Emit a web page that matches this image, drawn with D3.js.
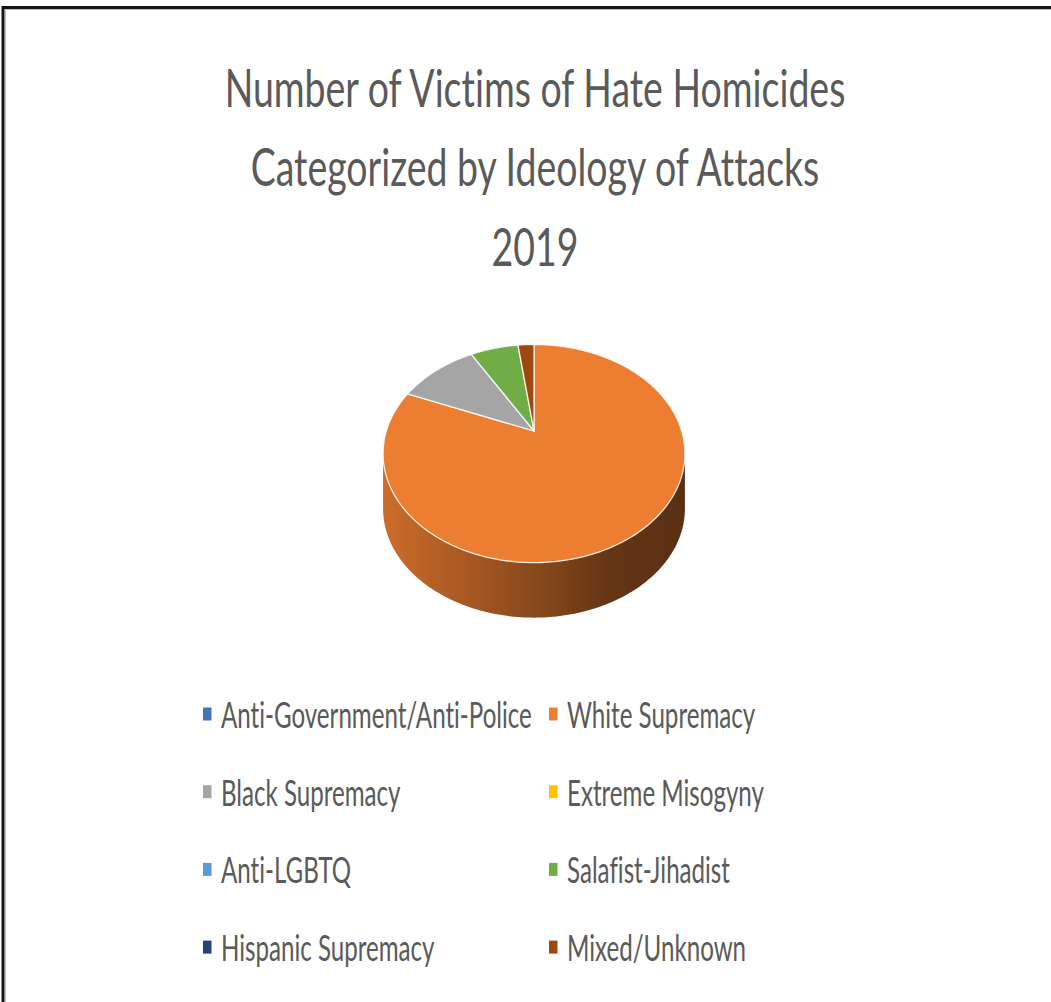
<!DOCTYPE html>
<html lang="en">
<head>
    <meta charset="UTF-8">
    <title>Number of Victims of Hate Homicides 2019</title>
    <script src="https://d3js.org/d3.v7.min.js"></script>
    <style>
        body {
            margin: 0;
            background: #fff;
        }
        svg text {
            font-family: Lato, "Open Sans", sans-serif;
            font-variant-ligatures: none;
            fill: #5a5a5a;
        }
    </style>
</head>
<body>
    <svg id="chart"></svg>
    <script>
        // Data
        const categories = [
            "Anti-Government/Anti-Police", "White Supremacy",
            "Black Supremacy", "Extreme Misogyny",
            "Anti-LGBTQ", "Salafist-Jihadist",
            "Hispanic Supremacy", "Mixed/Unknown"
        ];
        const victims = [0, 39, 5, 0, 0, 3, 0, 1];
        const colors = ["#4472C4", "#ED7D31", "#A5A5A5", "#FFC000", "#5B9BD5", "#70AD47", "#264478", "#9E480E"];
        const titleLines = ["Number of Victims of Hate Homicides", "Categorized by Ideology of Attacks", "2019"];

        const W = 1051, H = 1002;
        const svg = d3.select("#chart").attr("width", W).attr("height", H);
        svg.append("rect").attr("width", W).attr("height", H).attr("fill", "#fff");

        // Frame (only left and top edges are in the picture)
        svg.append("path").attr("d", `M3,${H} V7.5 H${W}`)
            .attr("fill", "none").attr("stroke", "#151515").attr("stroke-width", 3);
        svg.append("path").attr("d", `M5.5,${H} V9.5 H${W}`)
            .attr("fill", "none").attr("stroke", "#bbb").attr("stroke-width", 1);

        // Title
        const title = svg.append("g").attr("transform", "translate(535,0)");
        const titleText = title.selectAll("text")
            .data(titleLines)
            .enter()
            .append("text")
            .attr("text-anchor", "middle")
            .attr("y", (d, i) => 107 + i * 79.5)
            .style("font-size", "53px")
            .text(d => d);
        const kTitle = 621 / titleText.node().getComputedTextLength();
        titleText.attr("transform", `scale(${kTitle},1)`);

        // 3D pie: top face in perspective, wall dropped straight down
        const cam = { cx: 534, cy: 431, f: 505, d: 3.42, tilt: Math.PI / 4 };
        const wallH = 55;
        const cT = Math.cos(cam.tilt), sT = Math.sin(cam.tilt);
        function proj(x, z) {
            const Y = -z * sT;
            const D = cam.d - z * cT;
            return [cam.cx + cam.f * x / D, cam.cy - cam.f * Y / D];
        }
        const rimPt = t => proj(Math.sin(t), -Math.cos(t));
        function rim(a, b) {
            const n = Math.max(2, Math.ceil((b - a) / (Math.PI / 180)));
            return d3.range(n + 1).map(i => rimPt(a + (b - a) * i / n));
        }
        // wall is seen between the rightmost and leftmost rim points
        const fine = d3.range(0, 2 * Math.PI, Math.PI / 720);
        const vMin = d3.greatest(fine, t => rimPt(t)[0]);
        const vMax = d3.least(fine, t => rimPt(t)[0]);

        const pie = d3.pie().sort(null).value(d => d.v);
        const arcs = pie(categories.map((c, i) => ({ name: c, v: victims[i], color: colors[i] })))
            .filter(a => a.data.v > 0);

        const defs = svg.append("defs");
        arcs.forEach((a, i) => {
            const base = d3.rgb(a.data.color);
            const shade = k => d3.rgb(base.r * k, base.g * k, base.b * k).formatHex();
            const g = defs.append("linearGradient")
                .attr("id", "side" + i)
                .attr("gradientUnits", "userSpaceOnUse")
                .attr("x1", cam.cx - 150).attr("x2", cam.cx + 150)
                .attr("y1", 0).attr("y2", 0);
            [[0, 0.86], [0.25, 0.72], [0.5, 0.58], [0.75, 0.42], [1, 0.38]].forEach(([o, k]) => {
                g.append("stop").attr("offset", o).attr("stop-color", shade(k));
            });
        });

        const line = d3.line();
        const pieG = svg.append("g");

        // side walls
        arcs.forEach((a, i) => {
            const s = Math.max(a.startAngle, vMin), e = Math.min(a.endAngle, vMax);
            if (s >= e) return;
            const top = rim(s, e);
            const pts = top.concat(top.map(p => [p[0], p[1] + wallH]).reverse());
            pieG.append("path")
                .attr("d", line(pts) + "Z")
                .attr("fill", `url(#side${i})`);
        });

        // top faces
        const apex = proj(0, 0);
        arcs.forEach(a => {
            const pts = [apex].concat(rim(a.startAngle, a.endAngle));
            pieG.append("path")
                .attr("d", line(pts) + "Z")
                .attr("fill", a.data.color)
                .attr("stroke", "#fff")
                .attr("stroke-width", 1.3)
                .attr("stroke-linejoin", "round")
                .attr("stroke-opacity", 0.85);
        });

        // Legend: two columns, four rows
        const legend = svg.append("g");
        const items = legend.selectAll("g")
            .data(categories)
            .enter()
            .append("g")
            .attr("transform", (d, i) => `translate(${i % 2 === 0 ? 203 : 549},${728 + Math.floor(i / 2) * 77.7})`);
        items.append("rect")
            .attr("x", 0).attr("y", -20.5)
            .attr("width", 8.5).attr("height", 13)
            .attr("fill", (d, i) => colors[i]);
        const legText = items.append("text")
            .attr("x", 0)
            .style("font-size", "37.5px")
            .text(d => d);
        const kLeg = 311 / legText.node().getComputedTextLength();
        legText.attr("transform", `translate(18,0) scale(${kLeg},1)`);
    </script>
</body>
</html>
